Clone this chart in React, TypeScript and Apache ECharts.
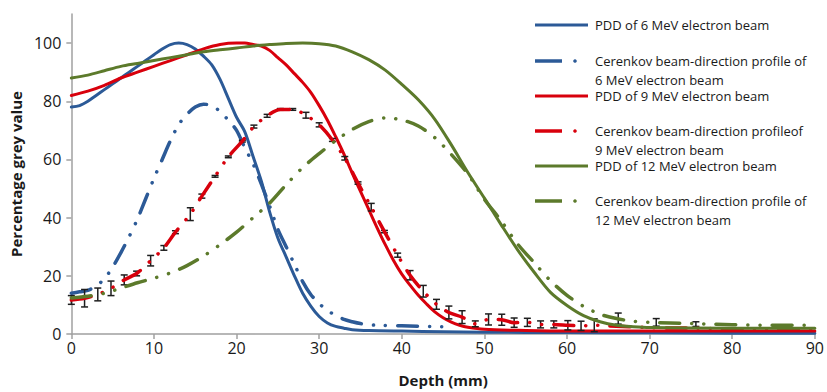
import React, { useEffect, useRef } from "react";
import * as echarts from "echarts";

const seriesNames = [
  "PDD of 6 MeV electron beam",
  "Cerenkov beam-direction profile of\n6 MeV electron beam",
  "PDD of 9 MeV electron beam",
  "Cerenkov beam-direction profileof\n9 MeV electron beam",
  "PDD of 12 MeV electron beam",
  "Cerenkov beam-direction profile of\n12 MeV electron beam",
];

const xTicks = [0, 10, 20, 30, 40, 50, 60, 70, 80, 90];
const yTicks = [0, 20, 40, 60, 80, 100];

// PDD 6 MeV
const pdd6Depth = [0,1,2,3,4,5,6,7,8,9,10,11,12,13,14,15,16,17,18,19,20,21,22,23,24,25,26,27,28,29,30,31,32,33,34,36,40,45,50,60,70,80,90];
const pdd6Value = [78,78.5,80,82,84,86,88,90,92,94,96,98,99.5,100,99.5,98,95.5,92.5,87.5,81,74.5,69.5,61,52.5,42,33,26.5,20,14,9.5,6,3.8,2.6,2,1.5,1.2,1,0.8,0.6,0.5,0.4,0.3,0.3];

// Cerenkov 6 MeV
const cer6Depth = [0,1,2,3,4,5,6,7,8,9,10,11,12,13,14,15,16,17,18,19,20,21,22,23,24,25,26,27,28,29,30,31,32,33,34,35,37,40,45];
const cer6Value = [14,14.5,15,16.5,19,23,28,33.5,39.5,46.5,53.5,60,66.5,72,75.5,78,79,78.5,76.5,73.5,70,64,58.5,51.5,44,36,30,24,18,13.5,10.5,8,6.5,5,4.2,3.6,3,2.8,2.5];

// PDD 9 MeV
const pdd9Depth = [0,2,4,6,8,10,12,14,16,18,20,21,22,23,24,25,26,27,28,29,30,31,32,33,34,35,36,37,38,39,40,41,42,43,44,45,46,47,48,50,55,60,70,80,90];
const pdd9Value = [82,83.5,85.5,88,90,92,94,96,98,99.5,100,100,99.5,99,97.5,95,92.5,89.5,86.5,83,78.5,73.5,67.8,61.8,55.3,49,42.8,36.6,30.7,25.3,20.6,16.8,13.3,10.3,7.6,5.6,4.1,3,2.3,1.6,1.2,1,1,1,1];

// Cerenkov 9 MeV (measured points with error bars)
const cer9Depth = [0,1.6,3.2,4.8,6.4,7.9,9.6,11.2,12.6,14.4,15.8,17.4,19,20.7,22.1,23.7,25.3,26.8,28.4,30,31.6,33.1,34.7,36.3,37.9,39.5,41,42.6,44.2,45.7,47.3,48.9,50.5,52.1,53.6,55.2,56.8,58.4,60.1,61.7,63.3,65,70,75,80,85,90];
const cer9Value = [11.7,12.3,13.6,15.7,18.6,20.8,25.2,29.6,35,41.2,47.4,54.2,60.9,66.3,71.3,75,77.2,77.2,75.2,71.9,66.7,60.4,51.9,43.6,35.2,27.1,20.2,14.7,10.2,7.4,5.8,3.5,5,4.9,3.9,4,3.3,3.3,3,2.8,3,2.8,2.2,2,1.8,1.8,1.8];
const cer9Error = [1.5,3,2.2,2.5,1.7,0.8,1.8,0.8,0.5,2.2,0.7,0.3,0.3,0.3,0.5,0.5,0.3,0.3,1,0.7,0.5,0.6,0.4,1.3,0.4,0.7,1.6,2,1.7,2.2,2.2,1,1.9,1.9,1.6,1.4,1.2,1.2,1.6,1.6,2.2];

// PDD 12 MeV
const pdd12Depth = [0,2,4,6,8,10,12,14,16,18,20,22,24,26,28,30,32,34,36,38,40,42,44,46,48,50,52,54,56,58,60,62,64,66,68,70,80,90];
const pdd12Value = [88,89,90.5,92,93,94,95,96,97,97.7,98.3,99,99.5,99.9,100,99.8,99,97,94.3,90.7,85.8,80.5,73.8,65,55.5,46.7,37.7,29,21.3,14.3,9.8,6.3,4.2,3,2.5,2.2,2,2];

// Cerenkov 12 MeV
const cer12Depth = [0,2,4,6,8,10,12,14,16,18,20,22,24,26,28,30,32,34,36,38,40,42,44,46,48,50,52,54,56,58,60,62,64,66,68,70,75,80,85,90];
const cer12Value = [12.4,13,14,15.8,17.6,19.2,21,23.5,26.8,30.7,35,40,45,51.3,57.2,62,66.5,70.3,73,74.3,73.6,71.5,67.5,61.7,55,46.3,39,31,24.6,18.3,13.3,9.5,6.8,5.3,4.4,4,3.6,3.2,3,3];
const cer12ErrDepth = [66.2,70.8,75.6];
const cer12ErrValue = [5.3,4,3.4];
const cer12Error = [1.9,1.3,0.8];

const BLUE = "#2C5A97";
const RED = "#D8000C";
const GREEN = "#5C7A2B";
const FONT = "Open Sans";

const pairs = (xs: number[], ys: number[]) => xs.map((x, i) => [x, ys[i]]);
const dashDotDot = [20, 12, 0.1, 12, 0.1, 12];

function buildOption() {
  const errData = [
    ...cer9Error.map((e, i) => [cer9Depth[i], cer9Value[i] - e, cer9Value[i] + e]),
    ...cer12Error.map((e, i) => [cer12ErrDepth[i], cer12ErrValue[i] - e, cer12ErrValue[i] + e]),
  ];
  const solid = (name: string, color: string, data: number[][], z: number) => ({
    type: "line",
    name,
    data,
    smooth: 0.3,
    showSymbol: false,
    symbol: "none",
    z,
    lineStyle: { color, width: 3, cap: "round", join: "round" },
    itemStyle: { color },
  });
  const dashed = (name: string, color: string, data: number[][], z: number) => ({
    type: "line",
    name,
    data,
    smooth: 0.3,
    showSymbol: false,
    symbol: "none",
    z,
    lineStyle: { color, width: 3.5, type: dashDotDot, cap: "round", join: "round" },
    itemStyle: { color },
  });

  const legendRows = [
    { y: 25, color: BLUE, dash: false, lines: [seriesNames[0]] },
    { y: 61, color: BLUE, dash: true, lines: seriesNames[1].split("\n") },
    { y: 96, color: RED, dash: false, lines: [seriesNames[2]] },
    { y: 131, color: RED, dash: true, lines: seriesNames[3].split("\n") },
    { y: 166, color: GREEN, dash: false, lines: [seriesNames[4]] },
    { y: 201, color: GREEN, dash: true, lines: seriesNames[5].split("\n") },
  ];
  const graphics: any[] = [];
  legendRows.forEach((r) => {
    if (r.dash) {
      graphics.push({
        type: "line",
        shape: { x1: 535, y1: r.y, x2: 562, y2: r.y },
        style: { stroke: r.color, lineWidth: 3.5 },
        z: 100,
      });
      graphics.push({
        type: "circle",
        shape: { cx: 575, cy: r.y, r: 1.8 },
        style: { fill: r.color },
        z: 100,
      });
    } else {
      graphics.push({
        type: "line",
        shape: { x1: 535, y1: r.y, x2: 588, y2: r.y },
        style: { stroke: r.color, lineWidth: 3 },
        z: 100,
      });
    }
    r.lines.forEach((t, k) => {
      graphics.push({
        type: "text",
        x: 595,
        y: r.y + k * 19,
        style: {
          text: t,
          fontFamily: FONT,
          fontSize: 13,
          lineHeight: 14,
          fill: "#1a1a1a",
          verticalAlign: "middle",
          align: "left",
        },
        z: 100,
      });
    });
  });

  return {
    animation: false,
    backgroundColor: "#ffffff",
    grid: { left: 70, top: 14, right: 9, bottom: 48 },
    xAxis: {
      type: "value",
      min: 0,
      max: 90,
      interval: 10,
      name: "Depth (mm)",
      nameLocation: "middle",
      nameGap: 38,
      nameTextStyle: { fontFamily: FONT, fontSize: 15, fontWeight: "bold", color: "#1a1a1a" },
      axisLine: { show: true, lineStyle: { color: "#a0a0a0", width: 1.5 } },
      axisTick: { show: true, inside: false, length: 5, lineStyle: { color: "#a0a0a0", width: 1.5 } },
      axisLabel: {
        fontFamily: FONT,
        fontSize: 16,
        color: "#1a1a1a",
        margin: 6,
        customValues: xTicks,
      },
      splitLine: { show: false },
    },
    yAxis: {
      type: "value",
      min: 0,
      max: 110,
      name: "Percentage grey value",
      nameLocation: "middle",
      nameGap: 46,
      nameRotate: 90,
      nameTextStyle: { fontFamily: FONT, fontSize: 15, fontWeight: "bold", color: "#1a1a1a" },
      axisLine: { show: true, lineStyle: { color: "#a0a0a0", width: 1.5 } },
      axisTick: { show: true, inside: false, length: 5, lineStyle: { color: "#a0a0a0", width: 1.5 }, customValues: yTicks },
      axisLabel: {
        fontFamily: FONT,
        fontSize: 16,
        color: "#1a1a1a",
        margin: 10,
        customValues: yTicks,
      },
      splitLine: { show: false },
    },
    graphic: graphics,
    series: [
      solid(seriesNames[0], BLUE, pairs(pdd6Depth, pdd6Value), 2),
      dashed(seriesNames[1], BLUE, pairs(cer6Depth, cer6Value), 3),
      solid(seriesNames[2], RED, pairs(pdd9Depth, pdd9Value), 4),
      {
        type: "custom",
        name: "error bars",
        z: 5,
        data: errData,
        encode: { x: 0, y: [1, 2] },
        renderItem: (_params: any, api: any) => {
          const x = api.value(0);
          const lo = api.coord([x, api.value(1)]);
          const hi = api.coord([x, api.value(2)]);
          const w = 3.5;
          const style = { stroke: "#1e1e1e", lineWidth: 1.5 };
          return {
            type: "group",
            children: [
              { type: "line", shape: { x1: lo[0], y1: lo[1], x2: hi[0], y2: hi[1] }, style },
              { type: "line", shape: { x1: lo[0] - w, y1: lo[1], x2: lo[0] + w, y2: lo[1] }, style },
              { type: "line", shape: { x1: hi[0] - w, y1: hi[1], x2: hi[0] + w, y2: hi[1] }, style },
            ],
          };
        },
      },
      dashed(seriesNames[3], RED, pairs(cer9Depth, cer9Value), 6),
      solid(seriesNames[4], GREEN, pairs(pdd12Depth, pdd12Value), 7),
      dashed(seriesNames[5], GREEN, pairs(cer12Depth, cer12Value), 8),
    ],
  };
}

export default function App() {
  const ref = useRef<HTMLDivElement>(null);
  useEffect(() => {
    if (!ref.current) return;
    const chart = echarts.init(ref.current, null, { renderer: "svg" });
    chart.setOption(buildOption() as any);
    return () => chart.dispose();
  }, []);
  return (
    <div
      ref={ref}
      style={{ position: "fixed", left: 0, top: 0, width: 827, height: 392, background: "#fff" }}
    />
  );
}
